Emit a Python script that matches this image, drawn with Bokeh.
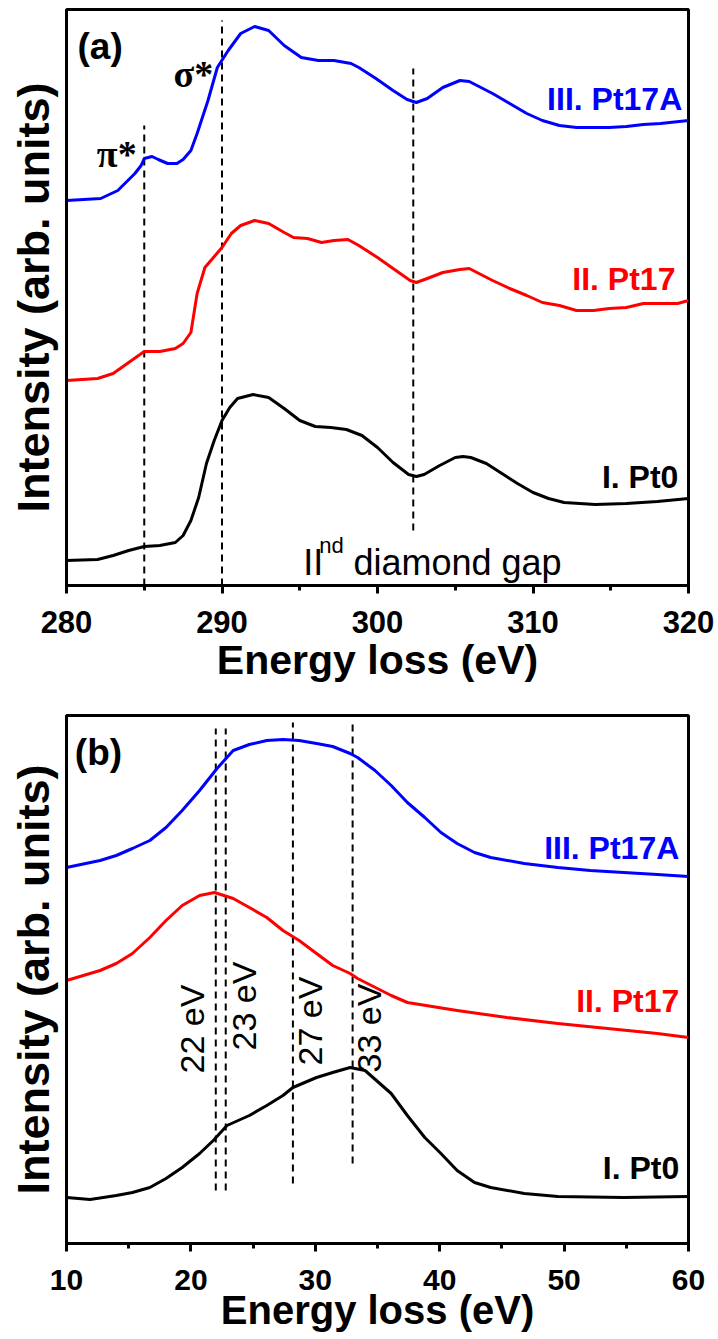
import math
from bokeh.plotting import figure
from bokeh.models import Range1d, SingleIntervalTicker, FixedTicker, Label
from bokeh.layouts import column
from bokeh.embed import file_html
from bokeh.resources import INLINE

# ---------------- Panel (a): core-loss EELS (C K-edge) ----------------
a_pt0_x = [280, 282, 283, 284, 285, 286, 287, 287.5, 288, 288.5, 289, 289.5, 290, 290.5, 291, 292, 293, 294,
           295, 296, 297, 298, 299, 300, 301, 302, 302.5, 303, 304, 305, 305.5, 306, 307, 308, 309, 310,
           311, 312, 313, 314, 316, 318, 320]
a_pt0_y = [0.25, 0.26, 0.30, 0.35, 0.39, 0.40, 0.43, 0.50, 0.65, 0.88, 1.22, 1.45, 1.65, 1.78, 1.87, 1.91, 1.88, 1.77,
           1.65, 1.59, 1.58, 1.56, 1.50, 1.38, 1.23, 1.11, 1.09, 1.11, 1.20, 1.28, 1.29, 1.28, 1.22, 1.12, 1.02, 0.93,
           0.87, 0.83, 0.82, 0.81, 0.82, 0.84, 0.87]

a_pt17_x = [280, 282, 283, 284, 285, 286, 287, 287.5, 288, 288.4, 288.9, 290, 290.6, 291.2, 292.1, 293, 294, 294.6,
            295.5, 296.4, 297.2, 298.1, 298.8, 300, 301, 302.1, 302.5, 303.2, 304.2, 305.3, 305.9, 306.4, 307.4,
            308.5, 309.6, 310.6, 311.7, 312.8, 313.9, 314.9, 316, 317.1, 318.2, 319.3, 320]
a_pt17_y = [2.05, 2.07, 2.12, 2.23, 2.34, 2.34, 2.37, 2.42, 2.53, 2.92, 3.18, 3.38, 3.52, 3.60, 3.65, 3.62, 3.53, 3.48,
            3.47, 3.43, 3.45, 3.46, 3.40, 3.28, 3.17, 3.05, 3.03, 3.07, 3.13, 3.16, 3.17, 3.13, 3.05,
            2.97, 2.90, 2.83, 2.80, 2.75, 2.75, 2.77, 2.78, 2.82, 2.82, 2.82, 2.85]

a_pt17a_x = [280, 282.2, 283.3, 284.4, 284.8, 285.0, 285.5, 285.9, 286.5, 287.1, 287.5, 288.0, 288.4, 289.1, 289.7,
             290.4, 291.2, 292.1, 293, 294, 295.1, 296.2, 297.2, 298.3, 298.8, 299.9, 301, 301.9, 302.5, 303.2,
             304.2, 305.3, 305.9, 307.4, 308.5, 309.6, 310.6, 311.7, 312.8, 313.9, 314.9, 316, 317.1, 318.2, 320]
a_pt17a_y = [3.85, 3.87, 3.95, 4.12, 4.20, 4.27, 4.29, 4.26, 4.22, 4.22, 4.26, 4.35, 4.52, 4.85, 5.18,
             5.35, 5.52, 5.59, 5.55, 5.40, 5.28, 5.25, 5.25, 5.22, 5.18, 5.07, 4.95, 4.86, 4.83, 4.87,
             4.98, 5.05, 5.04, 4.92, 4.82, 4.72, 4.65, 4.60, 4.58, 4.58, 4.58, 4.59, 4.61, 4.62, 4.65]

a_mark_x = [285, 290, 302.3]
a_mark_y0 = [0.0, 0.0, 0.55]
a_mark_y1 = [4.60, 5.65, 5.17]

# ---------------- Panel (b): low-loss EELS (plasmon region) ----------------
b_pt17a_x = [10, 12.7, 14.0, 15.3, 16.7, 18.0, 19.3, 20.7, 22.1, 23.4, 24.7, 26.1, 27.4, 28.7, 30.1, 31.4, 32.8,
             33.4, 34.8, 36.1, 37.4, 38.8, 40.1, 41.4, 42.8, 44.1, 46.8, 49.5, 52.1, 54.8, 57.5, 60]
b_pt17a_y = [3.76, 3.83, 3.88, 3.95, 4.03, 4.16, 4.33, 4.53, 4.75, 4.93, 4.99, 5.03, 5.04, 5.03, 5.00, 4.97, 4.90,
             4.86, 4.73, 4.58, 4.41, 4.26, 4.11, 4.00, 3.91, 3.86, 3.80, 3.76, 3.73, 3.71, 3.69, 3.67]

b_pt17_x = [10, 12.7, 14.0, 15.3, 16.7, 18.0, 19.3, 20.7, 21.9, 23.4, 24.7, 26.1, 27.4, 28.7, 30.1, 31.4, 32.8,
            33.4, 36.1, 37.4, 41.4, 45.4, 49.5, 53.5, 57.5, 60]
b_pt17_y = [2.63, 2.73, 2.80, 2.90, 3.06, 3.23, 3.38, 3.48, 3.51, 3.45, 3.36, 3.26, 3.13, 3.03, 2.90, 2.78, 2.70,
            2.65, 2.48, 2.41, 2.33, 2.26, 2.20, 2.15, 2.10, 2.06]

b_pt0_x = [10, 11.9, 14, 15.3, 16.7, 18.0, 19.3, 20.7, 21.8, 22.9, 24.7, 26.1, 27.4, 28.2, 30.1, 31.4, 32.8, 34,
           36.1, 37.4, 38.8, 40.1, 41.4, 42.8, 44.1, 46.8, 49.5, 54.8, 60]
b_pt0_y = [0.46, 0.44, 0.48, 0.51, 0.56, 0.65, 0.76, 0.90, 1.03, 1.18, 1.28, 1.38, 1.48, 1.56, 1.66, 1.71, 1.76, 1.73,
           1.50, 1.28, 1.06, 0.90, 0.73, 0.61, 0.56, 0.50, 0.47, 0.46, 0.47]

b_mark_x = [22, 22.8, 28.2, 33]
b_mark_y0 = [0.53, 0.53, 0.60, 0.80]
b_mark_y1 = [5.15, 5.15, 5.21, 5.21]
b_mark_labels = ["22 eV", "23 eV", "27 eV", "33 eV"]
b_mark_label_x = [20.1, 24.3, 29.6, 34.35]
b_mark_label_y = [1.70, 1.93, 1.78, 1.71]

series_names = ["I. Pt0", "II. Pt17", "III. Pt17A"]
series_colors = ["#000000", "#ff0000", "#0000ff"]
x_title = "Energy loss (eV)"
y_title = "Intensity (arb. units)"

FONT = "Liberation Sans"


def make_fig(xr, yr, h, top, bottom, tick_size, tick_standoff, xlabel_size, xlabel_standoff):
    p = figure(width=718, height=h, x_range=Range1d(*xr), y_range=Range1d(*yr),
               output_backend="svg", toolbar_location=None,
               min_border_left=66, min_border_right=30, min_border_top=top, min_border_bottom=bottom)
    p.xgrid.visible = False
    p.ygrid.visible = False
    p.outline_line_color = "black"
    p.outline_line_width = 3
    p.outline_line_alpha = 1.0
    p.background_fill_color = "white"
    p.border_fill_color = "white"

    xa = p.xaxis[0]
    xa.ticker = SingleIntervalTicker(interval=10, num_minor_ticks=2)
    xa.axis_line_width = 3
    xa.major_tick_line_width = 3
    xa.major_tick_out = 8
    xa.major_tick_in = 0
    xa.minor_tick_line_width = 3
    xa.minor_tick_out = 5
    xa.minor_tick_in = 0
    xa.major_label_text_font = FONT
    xa.major_label_text_font_size = tick_size
    xa.major_label_text_font_style = "bold"
    xa.major_label_text_color = "black"
    xa.major_label_standoff = tick_standoff
    xa.axis_label = x_title
    xa.axis_label_text_font = FONT
    xa.axis_label_text_font_size = xlabel_size
    xa.axis_label_text_font_style = "bold"
    xa.axis_label_text_color = "black"
    xa.axis_label_standoff = xlabel_standoff

    ya = p.yaxis[0]
    ya.ticker = FixedTicker(ticks=[])
    ya.major_tick_out = 0
    ya.major_tick_in = 0
    ya.minor_tick_out = 0
    ya.minor_tick_in = 0
    ya.major_label_text_font_size = "0px"
    ya.major_label_standoff = 0
    ya.axis_line_width = 3
    ya.axis_label = y_title
    ya.axis_label_text_font = FONT
    ya.axis_label_text_font_size = "45px"
    ya.axis_label_text_font_style = "bold"
    ya.axis_label_text_color = "black"
    ya.axis_label_standoff = 8
    return p


def add_label(p, x, y, text, size, color="black", bold=True, align="left", baseline="middle",
              angle=0.0, font=FONT):
    p.add_layout(Label(x=x, y=y, text=text, text_font=font, text_font_size=size,
                       text_font_style="bold" if bold else "normal", text_color=color,
                       text_align=align, text_baseline=baseline, angle=angle))


# ---------- Figure (a) ----------
pa = make_fig((280, 320), (0, 5.76), 695, 9, 110, "31px", 17, "41px", 1)
pa.segment(x0=a_mark_x, y0=a_mark_y0, x1=a_mark_x, y1=a_mark_y1,
           line_color="black", line_width=2, line_dash="7 5")
for xs, ys, c in [(a_pt0_x, a_pt0_y, series_colors[0]),
                  (a_pt17_x, a_pt17_y, series_colors[1]),
                  (a_pt17a_x, a_pt17a_y, series_colors[2])]:
    pa.line(xs, ys, line_color=c, line_width=3, line_join="round")

add_label(pa, 280.71, 5.395, "(a)", "37px")
add_label(pa, 288.16, 5.12, "σ*", "38px", align="center", baseline="alphabetic", font="Liberation Serif")
add_label(pa, 283.23, 4.32, "π*", "38px", align="center", baseline="alphabetic", font="Liberation Serif")
add_label(pa, 319.6, 4.87, series_names[2], "32px", color=series_colors[2], align="right")
add_label(pa, 319.16, 3.07, series_names[1], "32px", color=series_colors[1], align="right")
add_label(pa, 319.35, 1.09, series_names[0], "32px", color=series_colors[0], align="right")
add_label(pa, 295.23, 0.23, "II", "36px", bold=False, baseline="alphabetic")
add_label(pa, 296.26, 0.40, "nd", "22px", bold=False, baseline="alphabetic")
add_label(pa, 298.45, 0.23, "diamond gap", "36px", bold=False, baseline="alphabetic")

# ---------- Figure (b) ----------
pb = make_fig((10, 60), (0, 5.28), 644, 20, 96, "30px", 18, "40px", -5)
pb.segment(x0=b_mark_x, y0=b_mark_y0, x1=b_mark_x, y1=b_mark_y1,
           line_color="black", line_width=2, line_dash="7 5")
for xs, ys, c in [(b_pt0_x, b_pt0_y, series_colors[0]),
                  (b_pt17_x, b_pt17_y, series_colors[1]),
                  (b_pt17a_x, b_pt17a_y, series_colors[2])]:
    pb.line(xs, ys, line_color=c, line_width=3, line_join="round")

add_label(pb, 10.67, 4.91, "(b)", "37px")
add_label(pb, 59.26, 3.96, series_names[2], "32px", color=series_colors[2], align="right")
add_label(pb, 59.26, 2.43, series_names[1], "32px", color=series_colors[1], align="right")
add_label(pb, 59.26, 0.76, series_names[0], "32px", color=series_colors[0], align="right")
for lx, ly, t in zip(b_mark_label_x, b_mark_label_y, b_mark_labels):
    add_label(pb, lx, ly, t, "34px", bold=False, align="left", baseline="middle", angle=math.pi / 2)

layout = column(pa, pb)
open("out.html", "w").write(file_html(layout, INLINE))
